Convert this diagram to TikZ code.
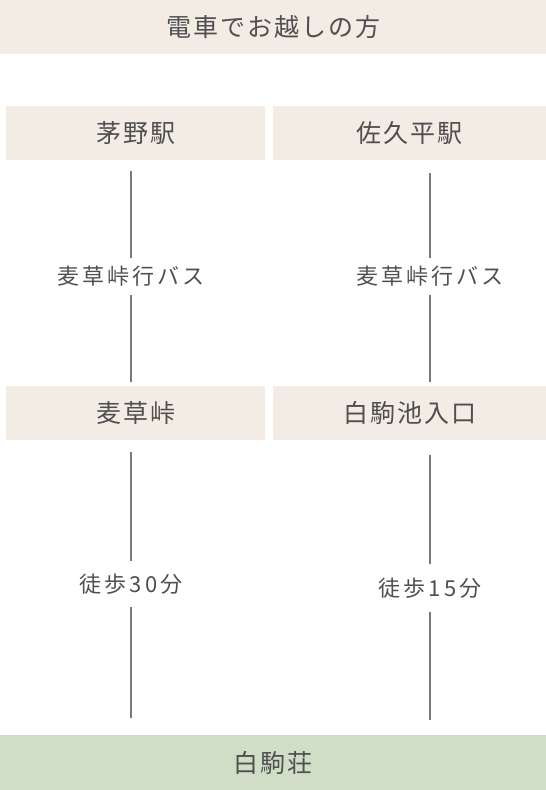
\documentclass[tikz,border=0pt]{standalone}
\usepackage{fontspec}
\newfontfamily\jpfont[LetterSpace=8]{Noto Sans CJK JP}
\newfontfamily\jproutefont[LetterSpace=14]{Noto Sans CJK JP}
\definecolor{inkgrey}{HTML}{4F4F4F}
\definecolor{linegrey}{HTML}{7A7A7A}
\definecolor{beigebg}{HTML}{F2ECE5}
\definecolor{greenbg}{HTML}{D0DEC8}
\usetikzlibrary{positioning}
\tikzstyle{banner} = [rectangle, inner sep=0pt, minimum width=546pt, minimum height=54pt, fill=beigebg, text=inkgrey, font=\jpfont\fontsize{25}{29}\selectfont]
\tikzstyle{station} = [banner, minimum width=259pt]
\tikzstyle{route} = [inner sep=0pt, text=inkgrey, font=\jproutefont\fontsize{22}{26}\selectfont]
\tikzstyle{link} = [line width=2pt, color=linegrey]

\begin{document}
\begin{tikzpicture}[x=1pt, y=1pt]
    \useasboundingbox (0,0) rectangle (546,-790);
    % Heading
    \node[banner] (title) at (273,-27) {電車でお越しの方};

    % Stations
    \node[station, below right=52pt and 6pt of title.south west] (kayano) {茅野駅};
    \node[station, minimum width=273pt, right=8pt of kayano] (sakudaira) {佐久平駅};
    \node[station, below=225pt of kayano] (touge) {麦草峠};
    \node[station, minimum width=274pt, right=8pt of touge] (iriguchi) {白駒池入口};

    % Destination
    \node[banner, fill=greenbg, minimum height=55pt] (lodge) at (273,-762.5) {白駒荘};

    % Route labels
    \node[route, minimum height=37pt] (busleft) at (131,-276.5) {麦草峠行バス};
    \node[route, minimum height=37pt] (busright) at (430,-276.5) {麦草峠行バス};
    \node[route, minimum height=45pt] (walkleft) at (131,-584) {徒歩30分};
    \node[route, minimum height=47pt] (walkright) at (430,-588) {徒歩15分};

    % Lines
    \draw[link, shorten >=10pt] (busleft) -- (busleft |- kayano.south);
    \draw[link, shorten >=4pt] (busleft) -- (busleft |- touge.north);
    \draw[link, shorten >=12pt] (busright) -- (busright |- sakudaira.south);
    \draw[link, shorten >=4pt] (busright) -- (busright |- iriguchi.north);
    \draw[link, shorten >=12pt] (walkleft) -- (walkleft |- touge.south);
    \draw[link, shorten >=17pt] (walkleft) -- (walkleft |- lodge.north);
    \draw[link, shorten >=15pt] (walkright) -- (walkright |- iriguchi.south);
    \draw[link, shorten >=15pt] (walkright) -- (walkright |- lodge.north);
  \end{tikzpicture}
\end{document}
